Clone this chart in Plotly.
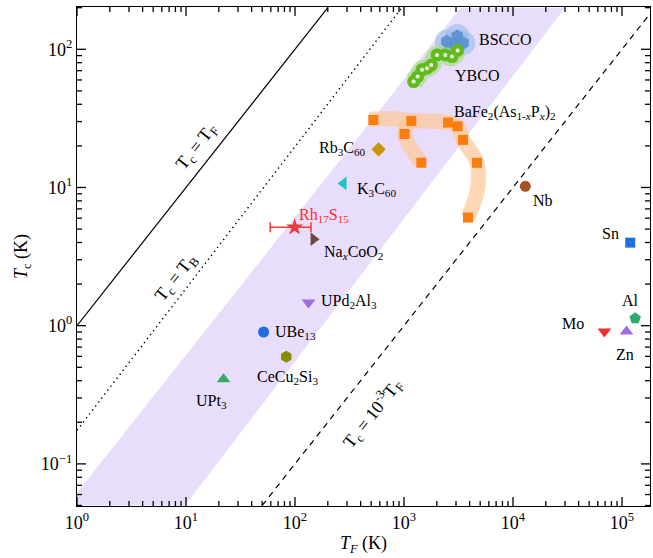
import numpy as np
import plotly.graph_objects as go

# ---------------- data ----------------
# guide band (TF, Tc)
band_TF = [1, 1, 3300, 30000, 9.8]
band_Tc = [0.05, 0.0617, 200, 200, 0.05]

# reference lines
line_F_TF = [1, 200];      line_F_Tc = [1, 200]          # Tc = TF
line_B_TF = [1, 955];      line_B_Tc = [0.175, 200]      # Tc = TB
line_3_TF = [50, 2.0e5];   line_3_Tc = [0.05, 200]       # Tc = 1e-3 TF

# BSCCO
bscco_TF = [2466, 3083, 3500, 2897]
bscco_Tc = [114, 125, 111, 108]
# YBCO
ybco_TF = [1225, 1334, 1463, 1625, 1780, 2008, 2392, 2756, 3103]
ybco_Tc = [58.4, 63.5, 71, 73, 77, 91, 91, 88.5, 98]
# BaFe2(As1-xPx)2
ba_TF = [523, 1167, 1012, 1442, 2535, 3103, 3477, 4677, 3864]
ba_Tc = [30.8, 30.3, 24.4, 15.1, 29.5, 27.7, 22.1, 15.1, 6.06]
# guide curves through BaFe2(As1-xPx)2 points
ba_curve1_TF = [480, 700, 1167, 2535, 3103, 3477, 4677, 4700, 3864]
ba_curve1_Tc = [31.0, 31.5, 30.5, 29.5, 27.7, 22.1, 15.1, 9.5, 6.06]
ba_curve2_TF = [1080, 1012, 1150, 1442]
ba_curve2_Tc = [29.0, 24.4, 19.5, 15.1]

# single compounds: name, TF, Tc, symbol, colour, size
singles = [
    ("Rb3C60",   585,    18.9, "diamond",             "#c8960c", 11),
    ("K3C60",    279,    10.7, "triangle-left",       "#1cc4c4", 12),
    ("NaxCoO2",  148,    4.23, "triangle-right",      "#6b4a40", 12),
    ("UPd2Al3",  133,    1.47, "triangle-down",       "#a06ee0", 12),
    ("UBe13",    51.5,   0.90, "circle",              "#1f6fe0", 11),
    ("CeCu2Si3", 83.2,   0.597, "hexagon",            "#8c8c00", 12),
    ("UPt3",     22.1,   0.41, "triangle-up",         "#36a86a", 12),
    ("Nb",       12970,  10.2, "circle",              "#a6532a", 11),
    ("Sn",       1.19e5, 3.99, "square",              "#1f6fe0", 10),
    ("Al",       1.32e5, 1.13, "pentagon",            "#2eaa6a", 12),
    ("Zn",       1.10e5, 0.906, "triangle-up",        "#a06ee0", 12),
    ("Mo",       6.9e4,  0.906, "triangle-down",      "#f03030", 12),
]

# Rh17S15 with TF error bar
rh_TF = [99.2]
rh_Tc = [5.16]
rh_err_plus = [41]
rh_err_minus = [40]

# tick labels
tick_vals_x = [1, 10, 100, 1e3, 1e4, 1e5]
tick_text_x = ["10<sup>0</sup>", "10<sup>1</sup>", "10<sup>2</sup>", "10<sup>3</sup>", "10<sup>4</sup>", "10<sup>5</sup>"]
tick_vals_y = [0.1, 1, 10, 100]
tick_text_y = ["10<sup>−1</sup>", "10<sup>0</sup>", "10<sup>1</sup>", "10<sup>2</sup>"]

# labels: text, log10(TF), log10(Tc), xanchor, colour
labels = [
    ("BSCCO", 3.672, 2.068, "left", "black"),
    ("YBCO", 3.452, 1.807, "left", "black"),
    ("BaFe<sub>2</sub>(As<sub>1-<i>x</i></sub>P<sub><i>x</i></sub>)<sub>2</sub>", 3.443, 1.540, "left", "black"),
    ("Rb<sub>3</sub>C<sub>60</sub>", 2.672, 1.279, "right", "black"),
    ("K<sub>3</sub>C<sub>60</sub>", 2.553, 0.983, "left", "black"),
    ("Rh<sub>17</sub>S<sub>15</sub>", 2.021, 0.795, "left", "#ff2a2a"),
    ("Na<sub><i>x</i></sub>CoO<sub>2</sub>", 2.250, 0.527, "left", "black"),
    ("UPd<sub>2</sub>Al<sub>3</sub>", 2.223, 0.172, "left", "black"),
    ("UBe<sub>13</sub>", 1.801, -0.052, "left", "black"),
    ("CeCu<sub>2</sub>Si<sub>3</sub>", 1.636, -0.378, "left", "black"),
    ("UPt<sub>3</sub>", 1.233, -0.551, "center", "black"),
    ("Nb", 4.168, 0.903, "left", "black"),
    ("Sn", 4.994, 0.664, "right", "black"),
    ("Al", 5.076, 0.179, "center", "black"),
    ("Mo", 4.672, 0.013, "right", "black"),
    ("Zn", 5.030, -0.211, "center", "black"),
]

# ---------------- figure ----------------
FONT = "Liberation Serif"
XR = [0, 573 / 109]
YR = [2.306 - 499 / 138.2, 2.306]
PLOT_W, PLOT_H = 573, 499

fig = go.Figure()

fig.add_trace(go.Scatter(x=band_TF, y=band_Tc, fill="toself", fillcolor="#e9ddfc",
                         line=dict(width=0), mode="lines", hoverinfo="skip"))

fig.add_trace(go.Scatter(x=line_F_TF, y=line_F_Tc, mode="lines",
                         line=dict(color="black", width=1.2)))
fig.add_trace(go.Scatter(x=line_B_TF, y=line_B_Tc, mode="lines",
                         line=dict(color="black", width=1.4, dash="1.4px,3.6px")))
fig.add_trace(go.Scatter(x=line_3_TF, y=line_3_Tc, mode="lines",
                         line=dict(color="black", width=1.2, dash="6px,5px")))

# halos
fig.add_trace(go.Scatter(x=bscco_TF, y=bscco_Tc, mode="markers",
                         marker=dict(size=24, color="rgba(140,185,230,0.55)", line=dict(width=0))))
fig.add_trace(go.Scatter(x=ybco_TF, y=ybco_Tc, mode="lines",
                         line=dict(color="rgba(160,220,120,0.6)", width=19, shape="spline")))
fig.add_trace(go.Scatter(x=ba_curve1_TF, y=ba_curve1_Tc, mode="lines",
                         line=dict(color="rgba(253,200,150,0.7)", width=15, shape="spline")))
fig.add_trace(go.Scatter(x=ba_curve2_TF, y=ba_curve2_Tc, mode="lines",
                         line=dict(color="rgba(253,200,150,0.7)", width=15, shape="spline")))

# main markers
fig.add_trace(go.Scatter(x=bscco_TF, y=bscco_Tc, mode="markers",
                         marker=dict(symbol="hexagon", size=13, color="#5b8fd0", opacity=0.9,
                                     line=dict(width=0))))
fig.add_trace(go.Scatter(x=ybco_TF, y=ybco_Tc, mode="markers",
                         marker=dict(symbol="circle", size=13, color="#62bb1c",
                                     line=dict(width=0))))
fig.add_trace(go.Scatter(x=ybco_TF, y=ybco_Tc, mode="markers",
                         marker=dict(symbol="circle", size=4, color="#f4ffe8",
                                     line=dict(width=0))))
fig.add_trace(go.Scatter(x=ba_TF, y=ba_Tc, mode="markers",
                         marker=dict(symbol="square", size=10, color="#fb7d0e",
                                     line=dict(width=0))))

for name, tf, tc, sym, col, sz in singles:
    fig.add_trace(go.Scatter(x=[tf], y=[tc], mode="markers", name=name,
                             marker=dict(symbol=sym, size=sz, color=col, line=dict(width=0))))

fig.add_trace(go.Scatter(x=rh_TF, y=rh_Tc, mode="markers",
                         marker=dict(symbol="star", size=13, color="#f23a3a", line=dict(width=0)),
                         error_x=dict(type="data", array=rh_err_plus, arrayminus=rh_err_minus,
                                      color="#f23a3a", thickness=1.5, width=5)))

# ---- tick marks as shapes (inside, all four sides), positioned in axis-domain fractions ----
shapes = []
tick_line = dict(color="black", width=1.3)
for d in range(0, 6):
    for k in range(1, 10):
        lv = np.log10(k * 10.0 ** d)
        if not (XR[0] <= lv <= XR[1]):
            continue
        f = (lv - XR[0]) / (XR[1] - XR[0])
        L = (9 if k == 1 else 5) / PLOT_H
        shapes.append(dict(type="line", xref="x domain", yref="y domain", x0=f, x1=f,
                           y0=0, y1=L, line=tick_line, layer="above"))
        shapes.append(dict(type="line", xref="x domain", yref="y domain", x0=f, x1=f,
                           y0=1, y1=1 - L, line=tick_line, layer="above"))
for d in range(-2, 3):
    for k in range(1, 10):
        lv = np.log10(k * 10.0 ** d)
        if not (YR[0] <= lv <= YR[1]):
            continue
        f = (lv - YR[0]) / (YR[1] - YR[0])
        L = (9 if k == 1 else 5) / PLOT_W
        shapes.append(dict(type="line", xref="x domain", yref="y domain", x0=0, x1=L,
                           y0=f, y1=f, line=tick_line, layer="above"))
        shapes.append(dict(type="line", xref="x domain", yref="y domain", x0=1, x1=1 - L,
                           y0=f, y1=f, line=tick_line, layer="above"))

for text, lx, ly, xa, col in labels:
    fig.add_annotation(x=lx, y=ly, text=text, showarrow=False, xanchor=xa, yanchor="middle",
                       font=dict(family=FONT, size=16, color=col))

# reference line labels
line_labels = [
    ("T<sub>c</sub> = T<sub>F</sub>", (196.7 - 76.7) / 109, (325.8 - 148) / 138.2),
    ("T<sub>c</sub> = T<sub>B</sub>", (175.7 - 76.7) / 109, (325.8 - 278.3) / 138.2),
    ("T<sub>c</sub> = 10<sup>-3</sup>T<sub>F</sub>", (371.7 - 76.7) / 109, (325.8 - 413.3) / 138.2),
]
for text, lx, ly in line_labels:
    fig.add_annotation(x=lx, y=ly, text=text, showarrow=False, textangle=-51.7,
                       xanchor="center", yanchor="middle",
                       font=dict(family=FONT, size=18, color="black"))

axis_common = dict(type="log", showgrid=False, zeroline=False, showline=True,
                   linecolor="black", linewidth=1.3, mirror=True, ticks="",
                   tickfont=dict(family=FONT, size=18, color="black"))

fig.update_layout(
    shapes=shapes,
    xaxis=dict(**axis_common, range=XR, tickmode="array", tickvals=tick_vals_x, ticktext=tick_text_x,
               title=dict(text="<i>T<sub>F</sub></i> (K)",
                          font=dict(family=FONT, size=18, color="black"), standoff=4)),
    yaxis=dict(**axis_common, range=YR, tickmode="array", tickvals=tick_vals_y, ticktext=tick_text_y,
               title=dict(text="<i>T</i><sub>c</sub> (K)",
                          font=dict(family=FONT, size=18, color="black"), standoff=8)),
)

fig.update_layout(width=653, height=558, margin=dict(l=77, r=3, t=7, b=52),
                  plot_bgcolor="white", paper_bgcolor="white", showlegend=False,
                  font=dict(family=FONT))

fig.write_html("out.html")
